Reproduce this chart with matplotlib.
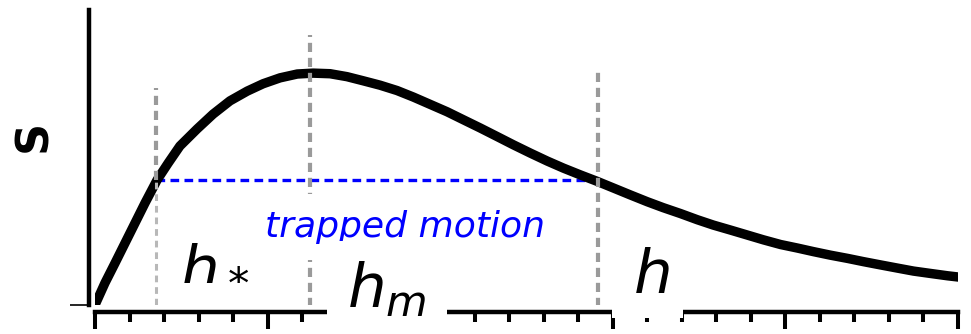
import matplotlib
matplotlib.use("Agg")
import matplotlib.pyplot as plt
from matplotlib.ticker import MultipleLocator, FixedLocator

# Potential curve S(h), sampled along its length
h_vals = [0.00, 0.29, 0.58, 0.87, 1.16, 1.45, 1.80, 2.12, 2.46, 2.96,
          3.42, 3.91, 4.41, 4.87, 5.36, 5.86, 6.32, 6.81, 7.30, 7.77,
          8.26, 8.75, 9.22, 9.71, 10.20, 10.67, 11.16, 11.65, 12.12, 12.61,
          13.10, 13.57, 14.06, 14.55, 15.01, 15.51, 16.00, 16.46, 16.96, 17.45,
          17.91, 18.41, 18.90, 19.36, 19.86, 20.35, 20.81, 21.30, 21.80, 22.26,
          22.75, 23.25, 23.71, 24.20, 24.70, 25.07]
s_vals = [0.00, 0.75, 1.42, 2.10, 2.78, 3.46, 4.24, 4.81, 5.39, 5.97,
          6.47, 6.92, 7.25, 7.50, 7.70, 7.83, 7.86, 7.84, 7.74, 7.60,
          7.45, 7.27, 7.05, 6.80, 6.55, 6.28, 6.00, 5.71, 5.43, 5.15,
          4.88, 4.64, 4.41, 4.19, 3.97, 3.73, 3.50, 3.30, 3.10, 2.89,
          2.71, 2.54, 2.37, 2.21, 2.05, 1.93, 1.81, 1.69, 1.58, 1.47,
          1.36, 1.25, 1.15, 1.07, 0.99, 0.94]

# Marked positions: h_*, h_m, and the right turning point
h_star = 1.78
h_m = 6.23
h_turn = 14.58
s_level = 4.25

# Upper ends of the vertical guide lines
guide_tops = [7.35, 9.15, 8.07]

fig = plt.figure(figsize=(9.71, 3.34), dpi=100)
ax = fig.add_axes([95 / 971, (334 - 305) / 334, (958 - 95) / 971, (305 - 10) / 334])
ax.set_xlim(0, 25)
ax.set_ylim(0, 10)

grey = "#9a9a9a"
# vertical guides
ax.plot([h_star, h_star], [s_level, guide_tops[0]], color=grey, lw=3.0,
        dashes=(2.2, 1.4), zorder=4, solid_capstyle="butt")
ax.plot([h_star, h_star], [0, s_level], color="#b8b8b8", lw=2.2,
        dashes=(2.2, 1.6), zorder=4)
ax.plot([h_m, h_m], [-0.07, guide_tops[1]], color=grey, lw=3.0,
        dashes=(2.2, 1.4), zorder=4)
ax.plot([h_turn, h_turn], [-0.07, guide_tops[2]], color=grey, lw=3.0,
        dashes=(2.2, 1.4), zorder=4)

# trapped-motion level
ax.plot([h_star, h_turn], [s_level, s_level], color="#0000ff", lw=2.4,
        dashes=(2.6, 1.6), zorder=3)

# the curve
ax.plot(h_vals, s_vals, color="black", lw=6.8, zorder=3.5,
        solid_capstyle="butt", solid_joinstyle="round")

ax.text(8.99, 2.31, "trapped motion", color="#0000ff", fontsize=26,
        style="italic", ha="center", va="baseline", zorder=5,
        bbox=dict(boxstyle="square,pad=0.45", facecolor="white", edgecolor="none"))

ax.text(2.46, 0.85, r"$h_*$", fontsize=44, ha="left", va="baseline", zorder=5)
ax.text(7.3, -0.07, r"$h_m$", fontsize=44, ha="left", va="baseline", zorder=6,
        clip_on=False,
        bbox=dict(boxstyle="square,pad=0.33", facecolor="white", edgecolor="none"))
ax.text(15.32, 0.41, r"$\,h\,$", fontsize=44, ha="left", va="baseline", zorder=6,
        clip_on=False,
        bbox=dict(boxstyle="square,pad=0.2", facecolor="white", edgecolor="none"))

# axes styling
for side in ("top", "right"):
    ax.spines[side].set_visible(False)
ax.spines["left"].set_position(("outward", 4))
ax.spines["bottom"].set_position(("outward", 5))
ax.spines["left"].set_linewidth(3.2)
ax.spines["bottom"].set_linewidth(3.2)
ax.spines["left"].set_zorder(2)
ax.spines["bottom"].set_zorder(2)

ax.xaxis.set_major_locator(MultipleLocator(5))
ax.xaxis.set_minor_locator(MultipleLocator(1))
ax.tick_params(axis="x", which="major", length=12, width=2.9, direction="out",
               labelbottom=False)
ax.tick_params(axis="x", which="minor", length=7, width=2.9, direction="out")
ax.yaxis.set_major_locator(FixedLocator([0]))
ax.tick_params(axis="y", which="major", length=14, width=1.2, direction="out",
               labelleft=False)

fig.text(34 / 971, 1 - 136 / 334, "S", fontsize=32, fontweight="bold",
         rotation=90, ha="center", va="center")

fig.savefig("out.png", dpi=100)
